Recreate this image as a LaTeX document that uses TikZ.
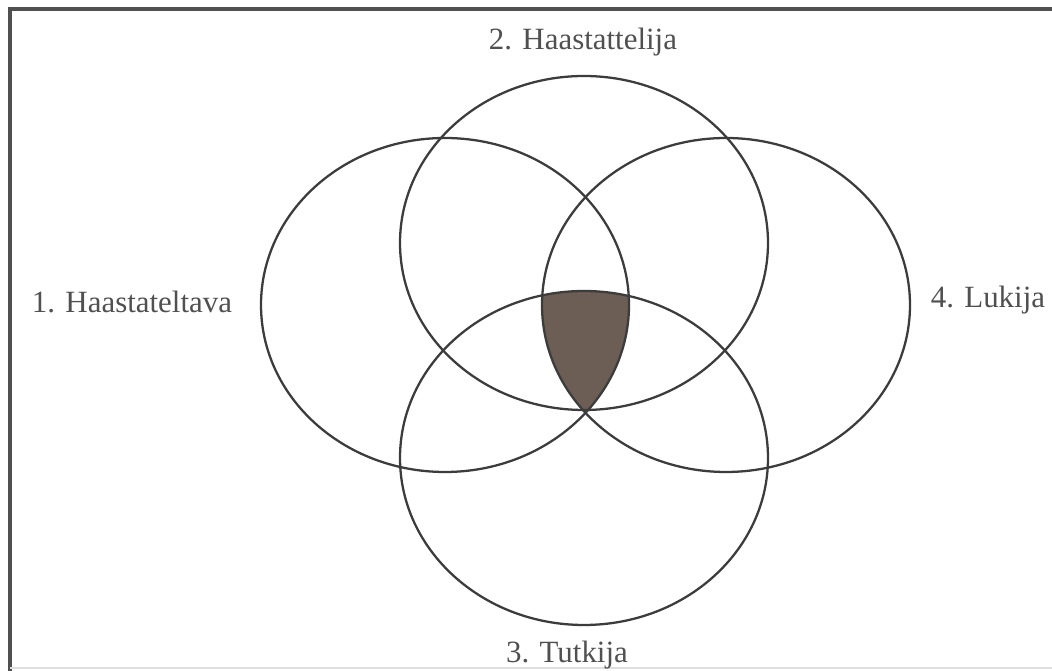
\documentclass[tikz,border=0pt]{standalone}
\usepackage{fontspec}
\setmainfont{Liberation Serif}
\usepackage{xcolor}
\usepackage{tikz}
\usetikzlibrary{positioning}

\definecolor{rimgray}{RGB}{60,60,60}
\definecolor{labelgray}{RGB}{80,80,80}
\definecolor{corebrown}{RGB}{108,94,84}

\tikzset{
  role/.style={font=\fontsize{17.6}{20}\selectfont,text=labelgray,inner sep=0pt},
  rim/.style={line width=1.3pt,draw=rimgray},
}

\begin{document}
\begin{tikzpicture}[x=0.02cm,y=-0.02cm]
  \useasboundingbox (0,0) rectangle (1052,671);
  % frame
  \draw[line width=2.2pt,draw=rimgray!90] (10,680) -- (10,9) -- (1060,9);
  \draw[line width=1pt,draw=gray!25] (10,668) -- (1060,668);
  % centres of the four ellipses
  \coordinate (haastateltava) at (445,305);
  \coordinate (haastattelija) at (584,243);
  \coordinate (tutkija)       at (584,458);
  \coordinate (lukija)        at (726,305);
  % common part of all four
  \begin{scope}
    \clip (haastateltava) ellipse [x radius=184,y radius=167];
    \clip (haastattelija) ellipse [x radius=184,y radius=167];
    \clip (lukija) ellipse [x radius=184,y radius=167];
    \fill[corebrown] (tutkija) ellipse [x radius=184,y radius=167];
  \end{scope}
  \foreach \c in {haastateltava,haastattelija,tutkija,lukija}
    \draw[rim] (\c) ellipse [x radius=184,y radius=167];
  \node[role] (l1) at (132,302) {1. Haastateltava};
  \node[role] (l2) at (583,42)  {2. Haastattelija};
  \node[role] (l3) at (567,655) {3. Tutkija};
  \node[role] (l4) at (988,300) {4. Lukija};
\end{tikzpicture}
\end{document}
